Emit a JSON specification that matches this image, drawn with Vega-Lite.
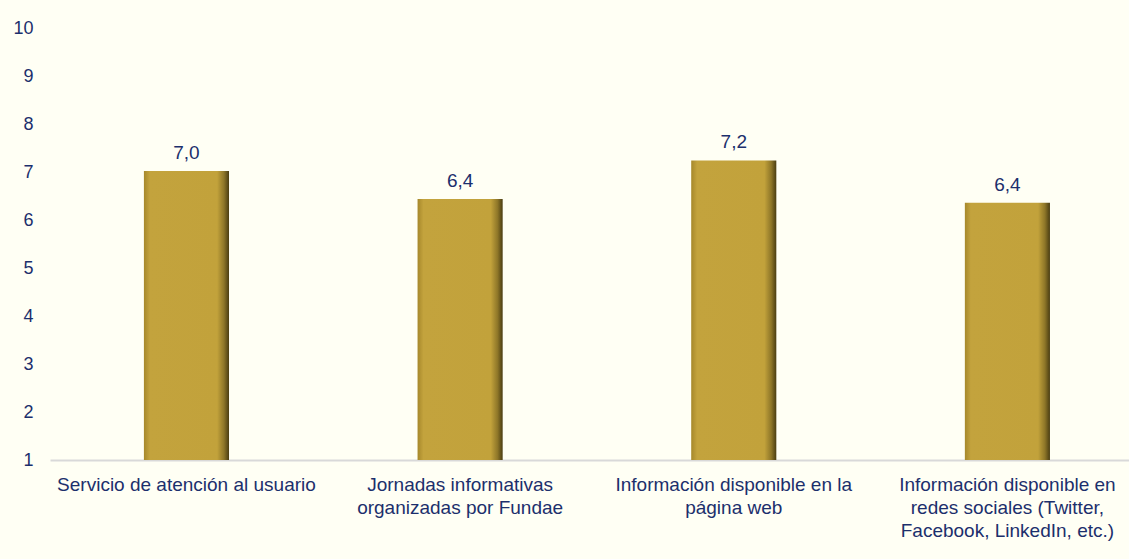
{
  "$schema": "https://vega.github.io/schema/vega-lite/v6.json",
  "width": 1079,
  "height": 432,
  "autosize": {"type": "none"},
  "padding": {"left": 50, "top": 28, "right": 0, "bottom": 99},
  "background": "#FFFFF4",
  "config": {
    "view": {"stroke": null},
    "locale": {"number": {"decimal": ",", "thousands": ".", "grouping": [3], "currency": ["", " €"]}},
    "font": "Liberation Sans"
  },
  "data": {
    "values": [
      {"categoria": "Servicio de atención al usuario", "valor": 7.02},
      {"categoria": "Jornadas informativas|organizadas por Fundae", "valor": 6.44},
      {"categoria": "Información disponible en la|página web", "valor": 7.24},
      {"categoria": "Información disponible en|redes sociales (Twitter,|Facebook, LinkedIn, etc.)", "valor": 6.36}
    ]
  },
  "encoding": {
    "x": {
      "field": "categoria",
      "type": "nominal",
      "sort": null,
      "scale": {"paddingInner": 0.689, "paddingOuter": 0.316, "align": 0.543},
      "axis": {
        "title": null,
        "labelAngle": 0,
        "labelExpr": "split(datum.value, '|')",
        "labelFont": "Liberation Sans",
        "labelFontSize": 19,
        "labelColor": "#1C2F6C",
        "labelLineHeight": 23,
        "labelPadding": 15,
        "labelLimit": 400,
        "ticks": false,
        "domainColor": "#D9D9D9",
        "domainWidth": 2,
        "grid": false
      }
    },
    "y": {
      "field": "valor",
      "type": "quantitative",
      "scale": {"domain": [1, 10], "nice": false, "zero": false},
      "axis": {
        "title": null,
        "values": [1, 2, 3, 4, 5, 6, 7, 8, 9, 10],
        "format": "d",
        "domain": false,
        "ticks": false,
        "grid": false,
        "labelPadding": 17,
        "labelFont": "Liberation Sans",
        "labelFontSize": 18,
        "labelColor": "#1C2F6C"
      }
    }
  },
  "layer": [
    {
      "mark": {
        "type": "bar",
        "color": {
          "gradient": "linear",
          "x1": 0, "x2": 1, "y1": 0, "y2": 0,
          "stops": [
            {"offset": 0, "color": "#A6882B"},
            {"offset": 0.07, "color": "#C3A33D"},
            {"offset": 0.86, "color": "#C2A23B"},
            {"offset": 0.94, "color": "#8E7628"},
            {"offset": 1, "color": "#4A3D12"}
          ]
        }
      },
      "encoding": {
        "y2": {"datum": 1}
      }
    },
    {
      "mark": {
        "type": "text",
        "baseline": "bottom",
        "dy": -8,
        "font": "Liberation Sans",
        "fontSize": 19,
        "color": "#1C2F6C"
      },
      "encoding": {
        "text": {"field": "valor", "type": "quantitative", "format": ".1f"}
      }
    }
  ]
}
